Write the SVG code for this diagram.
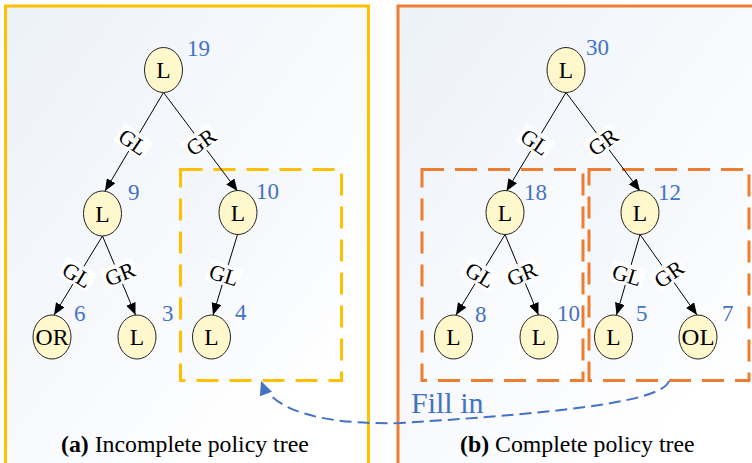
<svg xmlns="http://www.w3.org/2000/svg" width="752" height="463" viewBox="0 0 752 463">
<style>
.txt{font-family:"Liberation Serif","Times New Roman",serif;}
.node ellipse{fill:#FFF8CC;stroke:#222;stroke-width:1;}
.node .lbl{font-family:"Liberation Serif","Times New Roman",serif;font-size:23.5px;text-anchor:middle;fill:#000;}
.node .num{font-family:"Liberation Serif","Times New Roman",serif;font-size:23px;fill:#4472C4;}
.edge line{stroke:#000;stroke-width:1;marker-end:url(#arr);}
.elbl rect{fill:#fff;opacity:0.92;}
.elbl text{font-family:"Liberation Serif","Times New Roman",serif;font-size:22px;text-anchor:middle;fill:#000;}
.dashY{fill:url(#bgIn);stroke:#FFC000;stroke-width:3;stroke-dasharray:22 11;}
.dashO{fill:url(#bgIn);stroke:#ED7D31;stroke-width:3;stroke-dasharray:22 11;}
.cap{font-family:"Liberation Serif","Times New Roman",serif;font-size:23.8px;fill:#000;}
</style>
<defs>
<linearGradient id="bg" x1="0" y1="0" x2="0.8" y2="0.8">
<stop offset="0" stop-color="#ECF1F8"/>
<stop offset="1" stop-color="#FFFFFF"/>
</linearGradient>
<linearGradient id="bgIn" x1="0" y1="0" x2="1" y2="1">
<stop offset="0" stop-color="#F1F5FA"/>
<stop offset="1" stop-color="#FFFFFF"/>
</linearGradient>
<marker id="arr" viewBox="0 0 12 10" refX="12" refY="5" markerWidth="12" markerHeight="10" markerUnits="userSpaceOnUse" orient="auto">
<path d="M0,0 L12,5 L0,10 Z" fill="#000"/>
</marker>
<marker id="barr" viewBox="0 0 14 13" refX="14" refY="6.5" markerWidth="14" markerHeight="13" markerUnits="userSpaceOnUse" orient="auto">
<path d="M0,0 L14,6.5 L0,13 Z" fill="#4472C4"/>
</marker>
</defs>
<rect x="0" y="0" width="752" height="463" fill="#fff"/>
<g id="panel-a">
<rect x="5.5" y="6" width="363" height="480" fill="url(#bg)" stroke="#FFC000" stroke-width="3"/>
</g>
<g id="panel-b">
<rect x="398" y="6" width="370" height="480" fill="url(#bg)" stroke="#ED7D31" stroke-width="3"/>
</g>
<g id="boxes">
<rect id="box-a" class="dashY" x="180.5" y="169.5" width="161" height="211"/>
<rect id="box-b1" class="dashO" x="422" y="169.5" width="161" height="211"/>
<rect id="box-b2" class="dashO" x="589" y="169.5" width="160" height="211"/>
</g>
<g id="connectors">
<g class="edge">
<line x1="163.5" y1="92.5" x2="105" y2="191"/>
<line x1="163.5" y1="92.5" x2="237.5" y2="191"/>
<line x1="102.5" y1="236" x2="54" y2="315"/>
<line x1="102.5" y1="236" x2="135.5" y2="315"/>
<line x1="237.5" y1="234.5" x2="213" y2="315"/>
<line x1="566" y1="92.5" x2="506.5" y2="191"/>
<line x1="566" y1="92.5" x2="640" y2="191"/>
<line x1="505" y1="234.5" x2="456" y2="315"/>
<line x1="505" y1="234.5" x2="538.5" y2="315"/>
<line x1="640" y1="234.5" x2="616.5" y2="315"/>
<line x1="640" y1="234.5" x2="697" y2="315"/>
</g>
<g class="elbl">
<g transform="translate(133,142) rotate(34)"><rect x="-17" y="-11" width="34" height="21"/><text y="7.5">GL</text></g>
<g transform="translate(201,142) rotate(-36)"><rect x="-17" y="-11" width="34" height="21"/><text y="7.5">GR</text></g>
<g transform="translate(77,275) rotate(31)"><rect x="-17" y="-11" width="34" height="21"/><text y="7.5">GL</text></g>
<g transform="translate(120,274) rotate(-22)"><rect x="-17" y="-11" width="34" height="21"/><text y="7.5">GR</text></g>
<g transform="translate(224,275) rotate(17)"><rect x="-17" y="-11" width="34" height="21"/><text y="7.5">GL</text></g>
<g transform="translate(535,142) rotate(34)"><rect x="-17" y="-11" width="34" height="21"/><text y="7.5">GL</text></g>
<g transform="translate(603,142) rotate(-36)"><rect x="-17" y="-11" width="34" height="21"/><text y="7.5">GR</text></g>
<g transform="translate(480,275) rotate(31)"><rect x="-17" y="-11" width="34" height="21"/><text y="7.5">GL</text></g>
<g transform="translate(522,274) rotate(-22)"><rect x="-17" y="-11" width="34" height="21"/><text y="7.5">GR</text></g>
<g transform="translate(627,275) rotate(17)"><rect x="-17" y="-11" width="34" height="21"/><text y="7.5">GL</text></g>
<g transform="translate(669,274) rotate(-35)"><rect x="-17" y="-11" width="34" height="21"/><text y="7.5">GR</text></g>
</g>
<path id="fill-in" d="M669,381 C662,400 580,412 400,423 C320,425 272,410 261,381" fill="none" stroke="#4472C4" stroke-width="2" stroke-dasharray="12 6" marker-end="url(#barr)"/>
</g>
<g id="n-a-root" class="node"><ellipse cx="163.5" cy="70" rx="19" ry="22.5"/><text class="lbl" x="163.5" y="78">L</text><text class="num" x="187" y="56">19</text></g>
<g id="n-a-l" class="node"><ellipse cx="102.5" cy="213.5" rx="19" ry="22.5"/><text class="lbl" x="102.5" y="221.5">L</text><text class="num" x="128" y="200">9</text></g>
<g id="n-a-r" class="node"><ellipse cx="238" cy="212.5" rx="19" ry="22"/><text class="lbl" x="238" y="220.5">L</text><text class="num" x="256" y="199">10</text></g>
<g id="n-a-ll" class="node"><ellipse cx="52" cy="337" rx="19" ry="22"/><text class="lbl" x="52" y="345" textLength="33" lengthAdjust="spacingAndGlyphs">OR</text><text class="num" x="74" y="321">6</text></g>
<g id="n-a-lr" class="node"><ellipse cx="137" cy="337" rx="19" ry="22"/><text class="lbl" x="137" y="345">L</text><text class="num" x="162" y="321">3</text></g>
<g id="n-a-rl" class="node"><ellipse cx="211.5" cy="337" rx="19" ry="22"/><text class="lbl" x="211.5" y="345">L</text><text class="num" x="235" y="320">4</text></g>
<g id="n-b-root" class="node"><ellipse cx="566" cy="70" rx="19" ry="22.5"/><text class="lbl" x="566" y="78">L</text><text class="num" x="586" y="55">30</text></g>
<g id="n-b-l" class="node"><ellipse cx="505" cy="212.5" rx="19" ry="22"/><text class="lbl" x="505" y="220.5">L</text><text class="num" x="524" y="200">18</text></g>
<g id="n-b-r" class="node"><ellipse cx="640" cy="212.5" rx="19" ry="22"/><text class="lbl" x="640" y="220.5">L</text><text class="num" x="658" y="200">12</text></g>
<g id="n-b-ll" class="node"><ellipse cx="453.5" cy="337" rx="19" ry="22"/><text class="lbl" x="453.5" y="345">L</text><text class="num" x="475" y="322">8</text></g>
<g id="n-b-lr" class="node"><ellipse cx="539" cy="337" rx="19" ry="22"/><text class="lbl" x="539" y="345">L</text><text class="num" x="557" y="321">10</text></g>
<g id="n-b-rl" class="node"><ellipse cx="613.5" cy="337" rx="19" ry="22"/><text class="lbl" x="613.5" y="345">L</text><text class="num" x="636" y="321">5</text></g>
<g id="n-b-rr" class="node"><ellipse cx="698" cy="337" rx="19" ry="22"/><text class="lbl" x="698" y="345" textLength="33" lengthAdjust="spacingAndGlyphs">OL</text><text class="num" x="722" y="321">7</text></g>
<text class="txt" x="411" y="413" font-size="30" fill="#4472C4">Fill in</text>
<text class="cap" x="61" y="452"><tspan font-weight="bold">(a)</tspan> Incomplete policy tree</text>
<text class="cap" x="460" y="452"><tspan font-weight="bold">(b)</tspan> Complete policy tree</text>
</svg>
